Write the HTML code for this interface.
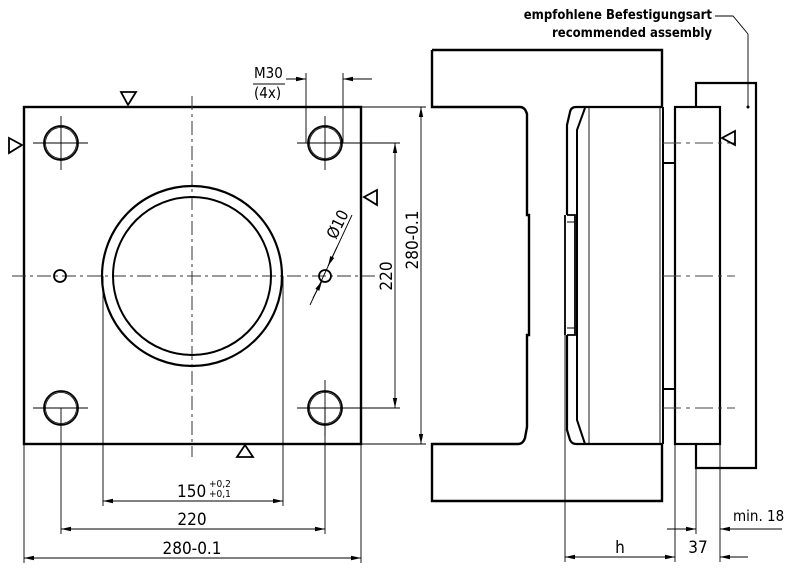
<!DOCTYPE html>
<html><head><meta charset="utf-8"><style>
html,body{margin:0;padding:0;background:#fff}
svg{display:block}
text{font-family:"DejaVu Sans Condensed","DejaVu Sans","Liberation Sans",sans-serif;fill:#000}
</style></head><body>
<svg width="800" height="578" viewBox="0 0 800 578" xmlns="http://www.w3.org/2000/svg">
<defs>
<marker id="a" viewBox="0 0 10 6" refX="10" refY="3" markerWidth="10" markerHeight="6" orient="auto-start-reverse" markerUnits="userSpaceOnUse"><path d="M0,0.8 L10,3 L0,5.2 z" fill="#000"/></marker>
</defs>
<g fill="none" stroke="#000">
<rect x="24" y="107" width="337" height="337" stroke-width="2.4"/>
<path d="M192,96 V457 M12,276 H375" stroke-width="1" stroke-dasharray="14,4,3,4" stroke="#333"/>
<circle cx="192" cy="276" r="90" stroke-width="2.2"/>
<circle cx="192" cy="276" r="79" stroke-width="2"/>
<g stroke-width="1.8">
<circle cx="61" cy="143" r="17"/><circle cx="61" cy="143" r="15.5" stroke-width="0.8"/>
<circle cx="325" cy="143" r="17"/><circle cx="325" cy="143" r="15.5" stroke-width="0.8"/>
<circle cx="61" cy="408" r="17"/><circle cx="61" cy="408" r="15.5" stroke-width="0.8"/>
<circle cx="325" cy="408" r="17"/><circle cx="325" cy="408" r="15.5" stroke-width="0.8"/>
</g>
<path d="M33,143 H88 M61,116 V170 M297,143 H353 M325,116 V170 M33,408 H88 M325,380 V436 M297,408 H353" stroke-width="0.9"/>
<circle cx="60" cy="276" r="6" stroke-width="1.8"/>
<circle cx="325" cy="276" r="6" stroke-width="1.8"/>
<path d="M121,92 H136 L128,105 Z" stroke-width="1.8"/>
<path d="M9,138 V153 L22,145 Z" stroke-width="1.8"/>
<path d="M377,190 V205 L364,197 Z" stroke-width="1.8"/>
<path d="M237,457 H253 L245,445 Z" stroke-width="1.8"/>
<path d="M24,444 V563 M361,444 V563 M61,408 V534 M325,408 V534 M103,276 V506 M283,276 V506" stroke-width="0.9"/>
<path d="M24,558 H361" stroke-width="0.9" marker-start="url(#a)" marker-end="url(#a)"/>
<path d="M61,529 H325" stroke-width="0.9" marker-start="url(#a)" marker-end="url(#a)"/>
<path d="M103,501 H283" stroke-width="0.9" marker-start="url(#a)" marker-end="url(#a)"/>
<path d="M361,107 H426 M343,143 H400 M343,408 H400 M361,444 H426" stroke-width="0.9"/>
<path d="M395,143 V408" stroke-width="0.9" marker-start="url(#a)" marker-end="url(#a)"/>
<path d="M421,107 V444" stroke-width="0.9" marker-start="url(#a)" marker-end="url(#a)"/>
<path d="M306,143 V73 M343,143 V73 M343,79 H372" stroke-width="0.9"/>
<path d="M286,79 H306" stroke-width="0.9" marker-end="url(#a)"/>
<path d="M365,79 H343" stroke-width="0.9" marker-end="url(#a)"/>
<path d="M253,84 H285" stroke-width="0.9"/>
<path d="M310,305 L352,215" stroke-width="0.9"/>
<path d="M313,298 L322,281" stroke-width="0.9" marker-end="url(#a)"/>
<path d="M337,247 L328,266" stroke-width="0.9" marker-end="url(#a)"/>

<path d="M432,50 H662 V107 M432,50 V107 H520 Q525,107 527,114 L527,125 V215 H529 V335 H527 V427 L525,438 Q523,444 518,444 H432 V501 H662 V444" stroke-width="2.4"/>
<path d="M662,107 H576 Q571,107 570,112 L567,125 V215 M567,335 V430 L570,440 Q572,444 576,444 H662" stroke-width="2.2"/>
<path d="M565,215 V335 M567,215 H575 V335 H567" stroke-width="1.8"/>
<path d="M567,222 H575 M567,328 H575" stroke-width="0.9"/>
<path d="M585,108 L577,130 V420 L585,444" stroke-width="2"/>
<path d="M589,108 V444 M660,108 V444" stroke-width="0.9"/>
<path d="M663,107 V444" stroke-width="2"/>
<path d="M663,163 H675 M663,389 H675" stroke-width="2"/>
<rect x="675" y="107" width="45" height="337" stroke-width="2.2"/>
<path d="M696,107 V83 H756 V468 H696 V444" stroke-width="2.2"/>
<path d="M663,143 H735 M663,276 H735 M663,408 H735" stroke-width="1" stroke-dasharray="18,5,4,5" stroke="#444"/>
<path d="M735,131 V145 L722,138 Z" stroke-width="1.8"/>
<path d="M715,16 H733 L748,34 V106" stroke-width="0.9"/>
<circle cx="748" cy="107" r="1" fill="#000"/>
<path d="M565,335 V562 M675,444 V562 M720,444 V562 M696,468 V534" stroke-width="0.9"/>
<path d="M565,557 H675" stroke-width="0.9" marker-start="url(#a)" marker-end="url(#a)"/>
<path d="M748,557 H720" stroke-width="0.9" marker-end="url(#a)"/>
<path d="M667,529 H696" stroke-width="0.9" marker-end="url(#a)"/>
<path d="M782,529 H720" stroke-width="0.9" marker-end="url(#a)"/>
</g>
<text x="712" y="19" font-size="13" font-weight="bold" text-anchor="end">empfohlene Befestigungsart</text>
<text x="712" y="37" font-size="13" font-weight="bold" text-anchor="end">recommended assembly</text>
<text x="254" y="78" font-size="15">M30</text>
<text x="254" y="98" font-size="15">(4x)</text>
<text x="177" y="497" font-size="17">150</text>
<text x="209" y="487" font-size="10">+0,2</text>
<text x="209" y="497" font-size="10">+0,1</text>
<text x="192" y="525" font-size="17" text-anchor="middle">220</text>
<text x="192" y="554" font-size="17" text-anchor="middle">280-0.1</text>
<text transform="translate(392,276) rotate(-90)" font-size="17" text-anchor="middle">220</text>
<text transform="translate(418,240) rotate(-90)" font-size="17" text-anchor="middle">280-0.1</text>
<text transform="translate(336,240) rotate(-64)" font-size="16">Ø10</text>
<text x="620" y="553" font-size="17" text-anchor="middle">h</text>
<text x="698" y="553" font-size="17" text-anchor="middle">37</text>
<text x="733" y="521" font-size="15">min. 18</text>
</svg>
</body></html>
